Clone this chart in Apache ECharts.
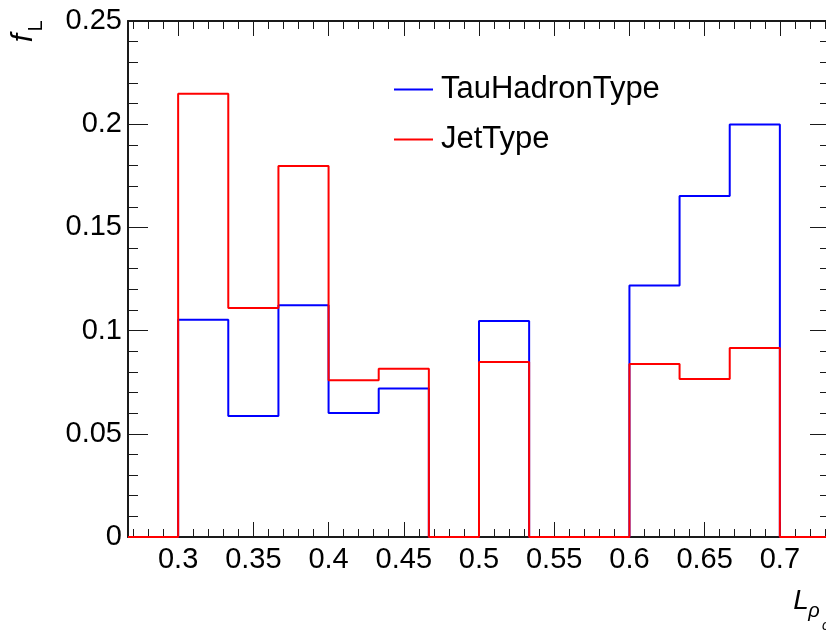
<!DOCTYPE html>
<html>
<head>
<meta charset="utf-8">
<script src="https://cdn.jsdelivr.net/npm/echarts@6/dist/echarts.min.js"></script>
<style>
  html, body { margin: 0; padding: 0; background: #fff; overflow: hidden; }
  #chart { width: 826px; height: 632px; }
</style>
</head>
<body>
<div id="chart"></div>
<script>
// Histogram bin edges (14 bins of width 1/30 from 0.26667 to 0.73333)
const binEdges = [0.26667, 0.3, 0.33333, 0.36667, 0.4, 0.43333, 0.46667,
                  0.5, 0.53333, 0.56667, 0.6, 0.63333, 0.66667, 0.7, 0.73333];

// Normalised bin contents per class
const tauHadronType = [0, 0.1053, 0.0586, 0.1123, 0.0601, 0.0720, 0,
                       0.1047, 0, 0, 0.1218, 0.1652, 0.1998, 0];
const jetType       = [0, 0.2148, 0.1110, 0.1797, 0.0759, 0.0815, 0,
                       0.0848, 0, 0, 0.0838, 0.0766, 0.0916, 0];

const seriesNames = ['TauHadronType', 'JetType'];
const seriesColors = ['#0000ff', '#ff0000'];

// Axis ticks
const xMajorTicks = [0.3, 0.35, 0.4, 0.45, 0.5, 0.55, 0.6, 0.65, 0.7];
const xMinorTicks = [];
for (let i = 27; i <= 73; i++) {
  if (i % 5 !== 0) xMinorTicks.push(i / 100);
}
const yMin = 0, yMax = 0.25, yStep = 0.05;

const FONT = '"Liberation Sans", Arial, Helvetica, sans-serif';
const AXIS_COLOR = '#1a1a1a';

// The frame runs a few pixels past the canvas edge: the plot box spans
// x = 128..830 px, the canvas stops at 826 px, so the visible range ends early.
const PLOT_LEFT = 128, FRAME_RIGHT = 830, CANVAS_W = 826;
const xLo = binEdges[0], xHi = binEdges[binEdges.length - 1];
const xViewMax = xLo + (xHi - xLo) * (CANVAS_W - PLOT_LEFT) / (FRAME_RIGHT - PLOT_LEFT);

// Build step-outline points: each bin starts at its low edge, last point closes at the high edge
function outline(values) {
  const pts = values.map((v, i) => [binEdges[i], v]);
  pts.push([binEdges[binEdges.length - 1], values[values.length - 1]]);
  return pts;
}

function xAxisDef(position, ticks, len, showLine, labels) {
  return {
    type: 'value',
    position: position,
    min: xLo,
    max: xViewMax,
    axisLine: { show: showLine, onZero: false, lineStyle: { color: AXIS_COLOR, width: 2 } },
    axisTick: { show: true, inside: true, length: len, customValues: ticks,
                lineStyle: { color: AXIS_COLOR, width: 1 } },
    axisLabel: labels ? {
      show: true, customValues: ticks, margin: 8,
      fontFamily: FONT, fontSize: 29, color: '#000',
      formatter: v => String(v)
    } : { show: false },
    splitLine: { show: false }
  };
}

function yAxisDef(position, labels, showLine, major, minor) {
  return {
    type: 'value',
    position: position,
    min: yMin, max: yMax, interval: yStep,
    axisLine: { show: showLine, onZero: false, lineStyle: { color: AXIS_COLOR, width: 2 } },
    axisTick: { show: true, inside: true, length: major, lineStyle: { color: AXIS_COLOR, width: 1 } },
    minorTick: { show: true, splitNumber: 5, length: minor, lineStyle: { color: AXIS_COLOR, width: 1 } },
    axisLabel: labels ? {
      show: true, margin: 6, fontFamily: FONT, fontSize: 29, color: '#000',
      formatter: v => String(Math.round(v * 100) / 100)
    } : { show: false },
    splitLine: { show: false },
    minorSplitLine: { show: false }
  };
}

const chart = echarts.init(document.getElementById('chart'), null, { renderer: 'canvas' });

chart.setOption({
  animation: false,
  backgroundColor: '#ffffff',
  grid: { left: PLOT_LEFT, top: 21, right: 0, height: 516, containLabel: false },
  xAxis: [
    xAxisDef('bottom', xMajorTicks, 15, true, true),
    xAxisDef('bottom', xMinorTicks, 8, false, false),
    xAxisDef('top', xMajorTicks, 15, true, false),
    xAxisDef('top', xMinorTicks, 8, false, false)
  ],
  yAxis: [
    yAxisDef('left', true, true, 20, 10),
    // right frame edge sits just off-canvas: only the tick stubs show
    yAxisDef('right', false, false, 16, 6)
  ],
  legend: {
    orient: 'vertical',
    left: 394, top: 74, padding: 0,
    itemWidth: 39, itemHeight: 2, itemGap: 19,
    data: seriesNames.map(n => ({ name: n, icon: 'rect' })),
    textStyle: { fontFamily: FONT, fontSize: 31, color: '#000', lineHeight: 30, padding: [0, 0, 0, 3] }
  },
  series: [
    {
      name: seriesNames[0], type: 'line', step: 'end', symbol: 'none',
      xAxisIndex: 0, yAxisIndex: 0,
      lineStyle: { color: seriesColors[0], width: 2 },
      itemStyle: { color: seriesColors[0] },
      data: outline(tauHadronType)
    },
    {
      name: seriesNames[1], type: 'line', step: 'end', symbol: 'none',
      xAxisIndex: 0, yAxisIndex: 0,
      lineStyle: { color: seriesColors[1], width: 2 },
      itemStyle: { color: seriesColors[1] },
      data: outline(jetType)
    }
  ],
  graphic: [
    // y-axis title f_L (rotated)
    { type: 'text', x: 24, y: 38, rotation: Math.PI / 2,
      style: { text: 'f', fontFamily: FONT, fontStyle: 'italic', fontSize: 30, fill: '#000',
               align: 'center', verticalAlign: 'middle' } },
    { type: 'text', x: 36, y: 26, rotation: Math.PI / 2,
      style: { text: 'L', fontFamily: FONT, fontSize: 20, fill: '#000',
               align: 'center', verticalAlign: 'middle' } },
    // x-axis title L_{ρ_c}
    { type: 'text', x: 801, y: 601,
      style: { text: 'L', fontFamily: FONT, fontStyle: 'italic', fontSize: 28, fill: '#000',
               align: 'center', verticalAlign: 'middle' } },
    { type: 'text', x: 814, y: 611,
      style: { text: 'ρ', fontFamily: FONT, fontStyle: 'italic', fontSize: 20, fill: '#000',
               align: 'center', verticalAlign: 'middle' } },
    { type: 'text', x: 822, y: 626,
      style: { text: 'c', fontFamily: FONT, fontStyle: 'italic', fontSize: 14, fill: '#000',
               align: 'left', verticalAlign: 'middle' } }
  ]
});
</script>
</body>
</html>
